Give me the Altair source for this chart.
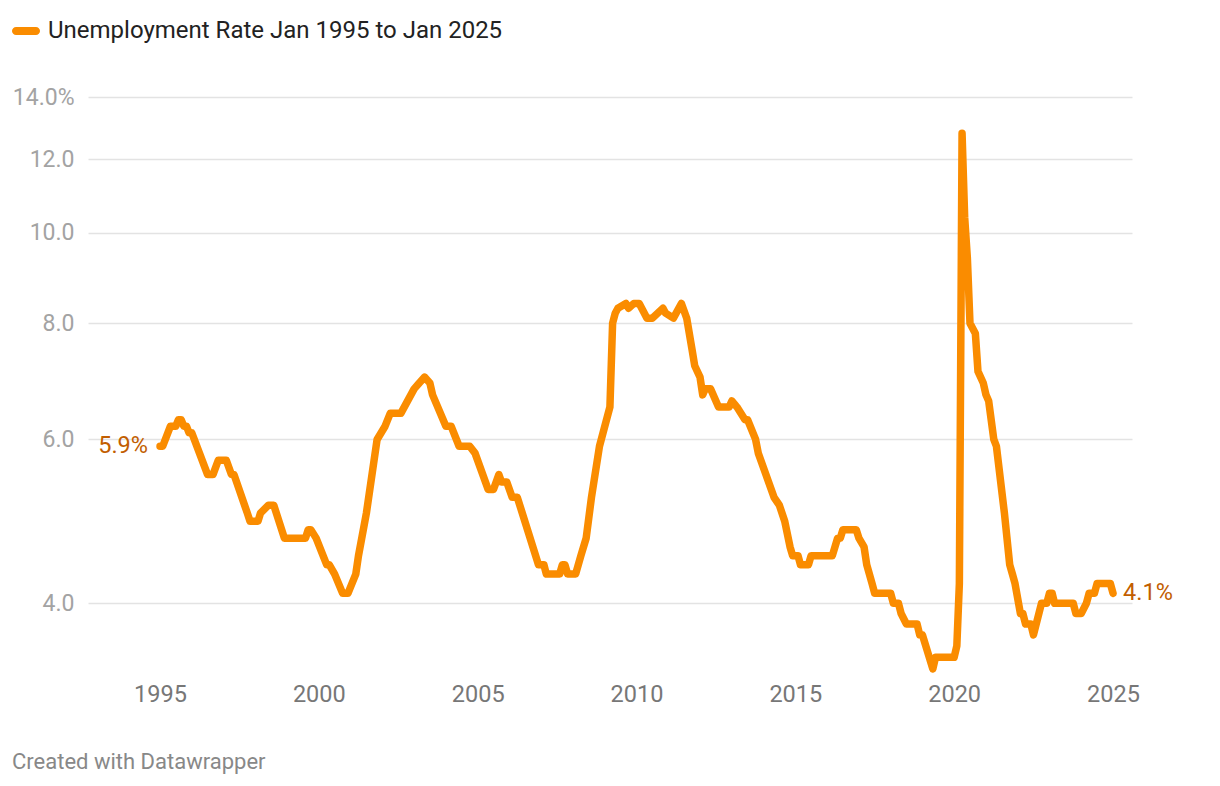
import altair as alt
import pandas as pd

SERIES = "Unemployment Rate Jan 1995 to Jan 2025"
FOOTER = "Created with Datawrapper"

# Monthly turning points (YYYY-MM, percent)
dates = [
    "1995-01", "1995-02", "1995-05", "1995-07", "1995-08", "1995-09", "1995-10", "1995-11",
    "1995-12", "1996-01", "1996-07", "1996-09", "1996-11", "1997-02", "1997-04", "1997-05",
    "1997-10", "1997-11", "1998-02", "1998-03", "1998-06", "1998-08", "1998-12", "1999-08",
    "1999-09", "1999-10", "1999-12", "2000-04", "2000-05", "2000-07", "2000-10", "2000-12",
    "2001-03", "2001-04", "2001-07", "2001-11", "2002-02", "2002-04", "2002-08", "2003-01",
    "2003-03", "2003-05", "2003-07", "2003-08", "2004-01", "2004-03", "2004-06", "2004-10",
    "2004-12", "2005-05", "2005-07", "2005-09", "2005-10", "2005-12", "2006-02", "2006-04",
    "2006-12", "2007-02", "2007-03", "2007-08", "2007-09", "2007-10", "2007-11", "2008-02",
    "2008-04", "2008-06", "2008-08", "2008-11", "2009-01", "2009-03", "2009-04", "2009-05",
    "2009-06", "2009-09", "2009-10", "2009-12", "2010-02", "2010-05", "2010-07", "2010-11",
    "2010-12", "2011-03", "2011-06", "2011-08", "2011-10", "2011-11", "2012-01", "2012-02",
    "2012-03", "2012-05", "2012-08", "2012-12", "2013-01", "2013-03", "2013-06", "2013-07",
    "2013-10", "2013-11", "2014-05", "2014-07", "2014-09", "2014-11", "2014-12", "2015-02",
    "2015-03", "2015-06", "2015-07", "2016-03", "2016-05", "2016-06", "2016-07", "2016-12",
    "2017-01", "2017-03", "2017-04", "2017-06", "2017-07", "2018-01", "2018-02", "2018-04",
    "2018-05", "2018-07", "2018-11", "2018-12", "2019-01", "2019-05", "2019-06", "2020-01",
    "2020-02", "2020-03", "2020-04", "2020-05", "2020-06", "2020-07", "2020-09", "2020-10",
    "2020-12", "2021-01", "2021-02", "2021-04", "2021-05", "2021-08", "2021-10", "2021-11",
    "2021-12", "2022-02", "2022-03", "2022-04", "2022-06", "2022-07", "2022-10", "2022-12",
    "2023-01", "2023-02", "2023-03", "2023-10", "2023-11", "2024-01", "2024-03", "2024-04",
    "2024-06", "2024-07", "2024-12", "2025-01",
]
rates = [
    5.9, 5.9, 6.2, 6.2, 6.3, 6.3, 6.2, 6.2,
    6.1, 6.1, 5.5, 5.5, 5.7, 5.7, 5.5, 5.5,
    5.0, 4.9, 4.9, 5.0, 5.1, 5.1, 4.7, 4.7,
    4.8, 4.8, 4.7, 4.4, 4.4, 4.3, 4.1, 4.1,
    4.3, 4.5, 5.0, 6.0, 6.2, 6.4, 6.4, 6.8,
    6.9, 7.0, 6.9, 6.7, 6.2, 6.2, 5.9, 5.9,
    5.8, 5.3, 5.3, 5.5, 5.4, 5.4, 5.2, 5.2,
    4.4, 4.4, 4.3, 4.3, 4.4, 4.4, 4.3, 4.3,
    4.5, 4.7, 5.2, 5.9, 6.2, 6.5, 8.0, 8.2,
    8.3, 8.4, 8.3, 8.4, 8.4, 8.1, 8.1, 8.3,
    8.2, 8.1, 8.4, 8.1, 7.5, 7.2, 7.0, 6.7,
    6.8, 6.8, 6.5, 6.5, 6.6, 6.5, 6.3, 6.3,
    6.0, 5.8, 5.2, 5.1, 4.9, 4.6, 4.5, 4.5,
    4.4, 4.4, 4.5, 4.5, 4.7, 4.7, 4.8, 4.8,
    4.7, 4.6, 4.4, 4.2, 4.1, 4.1, 4.0, 4.0,
    3.9, 3.8, 3.8, 3.7, 3.7, 3.4, 3.5, 3.5,
    3.6, 4.2, 12.8, 10.4, 9.4, 8.0, 7.8, 7.1,
    6.9, 6.7, 6.6, 6.0, 5.9, 5.0, 4.4, 4.3,
    4.2, 3.9, 3.9, 3.8, 3.8, 3.7, 4.0, 4.0,
    4.1, 4.1, 4.0, 4.0, 3.9, 3.9, 4.0, 4.1,
    4.1, 4.2, 4.2, 4.1,
]

x_tick_years = [1995, 2000, 2005, 2010, 2015, 2020, 2025]
y_ticks = [4, 6, 8, 10, 12, 14]

ORANGE = "#fa8c00"
LABEL_ORANGE = "#c25e00"
FONT = "Roboto"

df = pd.DataFrame({
    "date": [d + "-01" for d in dates],
    "rate": rates,
    "series": SERIES,
})
first_pt = df.iloc[[0]]
last_pt = df.iloc[[-1]]

x_enc = alt.X(
    "date:T",
    scale=alt.Scale(
        type="utc",
        domain=[alt.DateTime(year=1992, month=9, date=25, utc=True),
                alt.DateTime(year=2025, month=8, date=7, utc=True)],
    ),
    axis=alt.Axis(
        values=[alt.DateTime(year=y, month=1, date=1, utc=True) for y in x_tick_years],
        format="%Y", title=None, grid=False, domain=False, ticks=False,
        labelFontSize=23.5, labelColor="#777777", labelFont=FONT, labelPadding=13,
    ),
)
y_enc = alt.Y(
    "rate:Q",
    scale=alt.Scale(type="log", domain=[3.4, 14], nice=False),
    axis=alt.Axis(
        values=y_ticks, title=None, domain=False, ticks=False,
        labelExpr="datum.value == 14 ? '14.0%' : format(datum.value, '.1f')",
        gridColor="#e3e3e3", gridWidth=1.3,
        labelFontSize=23, labelColor="#a3a3a3", labelFont=FONT, labelPadding=14,
    ),
)

pill = "M-0.71,-0.29L0.71,-0.29A0.29,0.29 0 0 1 0.71,0.29L-0.71,0.29A0.29,0.29 0 0 1 -0.71,-0.29Z"

line = alt.Chart(df).mark_line(
    strokeWidth=7.5, strokeCap="round", strokeJoin="round"
).encode(
    x=x_enc,
    y=y_enc,
    color=alt.Color(
        "series:N",
        scale=alt.Scale(range=[ORANGE]),
        legend=alt.Legend(
            title=None, orient="none", legendX=-76, legendY=-80,
            symbolType=pill, symbolSize=784, symbolFillColor=ORANGE,
            symbolStrokeColor=ORANGE, symbolStrokeWidth=0, symbolOffset=0,
            labelFontSize=24, labelColor="#222222", labelFont=FONT,
            labelOffset=8, padding=0, labelLimit=600,
        ),
    ),
)

label_first = alt.Chart(first_pt).transform_calculate(
    label="format(datum.rate, '.1f') + '%'"
).mark_text(
    align="right", baseline="middle", dx=-12, fontSize=23.5, font=FONT, color=LABEL_ORANGE
).encode(x=x_enc, y=y_enc, text="label:N")

label_last = alt.Chart(last_pt).transform_calculate(
    label="format(datum.rate, '.1f') + '%'"
).mark_text(
    align="left", baseline="middle", dx=10, fontSize=23.5, font=FONT, color=LABEL_ORANGE
).encode(x=x_enc, y=y_enc, text="label:N")

chart = alt.layer(line, label_first, label_last).properties(
    width=1044,
    height=572,
    autosize=alt.AutoSizeParams(type="none"),
    padding={"left": 80, "top": 89, "right": 80, "bottom": 109},
    title=alt.TitleParams(
        FOOTER, orient="bottom", anchor="start", frame="bounds",
        fontSize=22, color="#888888", font=FONT, fontWeight="normal", offset=46,
    ),
).configure(
    font=FONT, background="white"
).configure_view(stroke=None, strokeWidth=0)

chart.save("out.html", embed_options={"renderer": "svg", "actions": False})
